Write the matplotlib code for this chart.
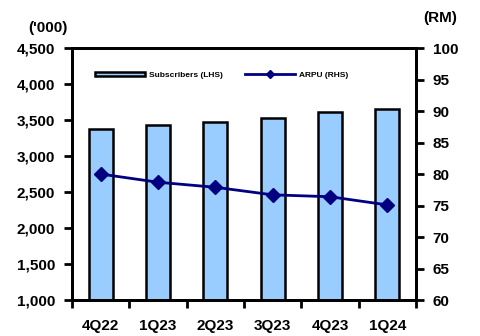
import matplotlib
matplotlib.use("Agg")
import matplotlib.pyplot as plt
from matplotlib.ticker import FuncFormatter, FixedLocator

# data
quarters = ["4Q22", "1Q23", "2Q23", "3Q23", "4Q23", "1Q24"]
subscribers = [3375, 3425, 3470, 3535, 3610, 3655]   # '000, left axis
arpu = [80.0, 78.7, 77.9, 76.7, 76.4, 75.1]          # RM, right axis

plt.rcParams["font.family"] = "Liberation Sans"
plt.rcParams["font.weight"] = "bold"

fig = plt.figure(figsize=(4.81, 3.36), dpi=100)
ax = fig.add_axes([0.1497, 0.107, 0.7153, 0.75])
ax2 = ax.twinx()

x = list(range(len(quarters)))
bars = ax.bar(x, subscribers, width=0.42, color="#99CCFF", edgecolor="black",
              linewidth=1.8, label="Subscribers (LHS)", zorder=2)
line, = ax2.plot(x, arpu, color="#000080", linewidth=2, marker="D",
                 markersize=7, label="ARPU (RHS)")

ax.set_xlim(-0.5, len(quarters) - 0.5)
ax.set_ylim(1000, 4500)
ax.set_yticks(range(1000, 4501, 500))
ax.yaxis.set_major_formatter(FuncFormatter(lambda v, p: f"{int(v):,}"))
ax2.set_ylim(60, 100)
ax2.set_yticks(range(60, 101, 5))

ax.set_xticks(x)
ax.set_xticklabels(quarters)
ax.xaxis.set_minor_locator(FixedLocator([i - 0.5 for i in range(len(quarters) + 1)]))
ax.tick_params(axis="x", which="major", length=0, pad=14, labelsize=11)
ax.tick_params(axis="x", which="minor", length=6, width=2, direction="out")
ax.tick_params(axis="y", length=6, width=2, direction="out", labelsize=11, pad=6)
ax2.tick_params(axis="y", length=6, width=2, direction="out", labelsize=11, pad=6)

for a in (ax, ax2):
    for s in a.spines.values():
        s.set_linewidth(2)

fig.text(0.10, 0.905, "('000)", fontsize=11, ha="center", fontweight="bold")
fig.text(0.915, 0.935, "(RM)", fontsize=11, ha="center", fontweight="bold")

ax.legend([bars, line], ["Subscribers (LHS)", "ARPU (RHS)"], loc="upper left",
          bbox_to_anchor=(0.058, 0.92), ncol=2, frameon=False, fontsize=6,
          handlelength=6, handleheight=0.5, columnspacing=2.6,
          handletextpad=0.5, markerscale=0.6, borderaxespad=0)

plt.savefig("out.png", dpi=100)
